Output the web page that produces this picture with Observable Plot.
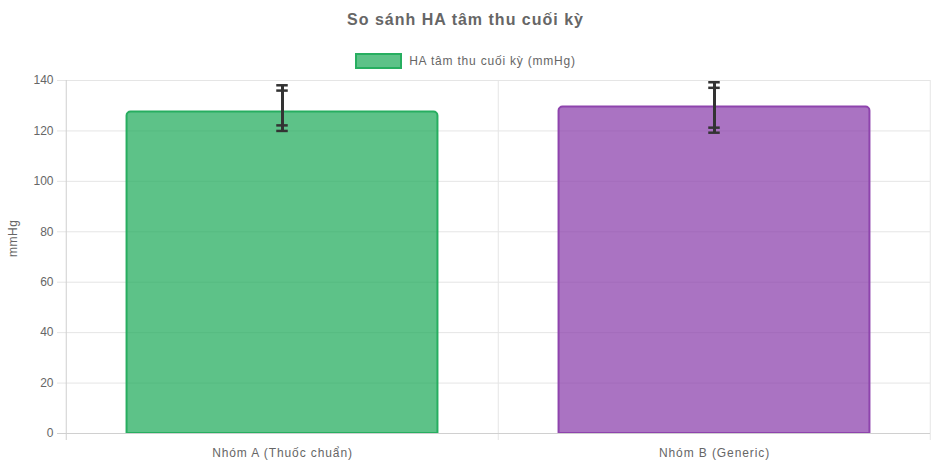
<!DOCTYPE html>
<html>
<head>
<meta charset="utf-8">
<script src="https://cdn.jsdelivr.net/npm/d3@7"></script>
<script src="https://cdn.jsdelivr.net/npm/@observablehq/plot@0.6"></script>
<style>
  html, body { margin: 0; padding: 0; background: #fff; }
  body { width: 931px; height: 465px; overflow: hidden; font-family: "Liberation Sans", Arial, Helvetica, sans-serif; }
  #title { height: 40px; line-height: 40px; text-align: center; font-weight: bold; font-size: 16px; color: #666; letter-spacing: 1px; }
  #legend { height: 22px; margin-top: 10px; display: flex; justify-content: center; align-items: center; font-size: 12px; color: #666; letter-spacing: 0.8px; }
  #legend .sw { width: 43px; height: 12px; background: rgba(39,174,96,0.75); border: 2px solid #27ae60; margin-right: 7px; box-sizing: content-box; }
  #chart { height: 393px; }
  #chart g[aria-label="x-axis tick label"] text { letter-spacing: 0.9px; }
  #chart g[aria-label="text"] text { letter-spacing: 0.5px; }
</style>
</head>
<body>
<div id="title"></div>
<div id="legend"><span class="sw"></span><span id="legtext"></span></div>
<div id="chart"></div>
<script>
const titleText = "So sánh HA tâm thu cuối kỳ";
const seriesName = "HA tâm thu cuối kỳ (mmHg)";
const yLabel = "mmHg";
const categories = ["Nhóm A (Thuốc chuẩn)", "Nhóm B (Generic)"];
const values = [127.5, 129.5];
const fills = ["rgba(39,174,96,0.75)", "rgba(142,68,173,0.75)"];
const strokes = ["#27ae60", "#8e44ad"];
// two overlapping error bars as drawn in the reference
const errOuterLow = [120.0, 119.3];
const errOuterHigh = [138.1, 139.3];
const errInnerLow = [122.2, 121.3];
const errInnerHigh = [136.0, 137.1];
const yTicks = [0, 20, 40, 60, 80, 100, 120, 140];

document.getElementById("title").textContent = titleText;
document.getElementById("legtext").textContent = seriesName;

const data = categories.map((c, i) => ({
  cat: c, v: values[i], fill: fills[i], stroke: strokes[i],
  lo: errOuterLow[i], hi: errOuterHigh[i], lo2: errInnerLow[i], hi2: errInnerHigh[i]
}));

const W = 931, H = 393;
const mL = 65, mR = 1, mT = 8, mB = 32;
const bandW = (W - mL - mR) / categories.length;
const barInset = (bandW - bandW * 0.72) / 2;
const capInset = (bandW - 12) / 2;
const capOpts = { x: "cat", stroke: "#333", strokeWidth: 2.5, insetLeft: capInset, insetRight: capInset };

const chart = Plot.plot({
  width: W,
  height: H,
  marginLeft: mL,
  marginRight: mR,
  marginTop: mT,
  marginBottom: mB,
  style: { fontFamily: '"Liberation Sans", Arial, sans-serif', fontSize: "12px", color: "#666", background: "#fff" },
  x: { type: "band", domain: categories, padding: 0, label: null },
  y: { domain: [0, 140], label: null },
  marks: [
    // horizontal grid (extends into tick area)
    Plot.ruleY(yTicks, { stroke: "#e5e5e5", strokeWidth: 1, insetLeft: -8 }),
    // vertical grid at category boundaries
    Plot.ruleX(categories, { x: (d) => d, dx: -bandW / 2, stroke: (d, i) => i === 0 ? "#cfcfcf" : "#e5e5e5", insetBottom: -7 }),
    Plot.ruleX(categories.slice(-1), { x: (d) => d, dx: bandW / 2 - 0.5, stroke: "#e5e5e5", insetBottom: -7 }),
    Plot.barY(data, {
      x: "cat", y: "v", fill: "fill", stroke: "stroke", strokeWidth: 2,
      insetLeft: barInset, insetRight: barInset, ry1: 4
    }),
    Plot.ruleY([0], { stroke: "#d0d0d0", insetLeft: -8 }),
    Plot.ruleX(data, { x: "cat", y1: "lo", y2: "hi", stroke: "#333", strokeWidth: 3 }),
    Plot.tickY(data, { ...capOpts, y: "hi" }),
    Plot.tickY(data, { ...capOpts, y: "lo" }),
    Plot.tickY(data, { ...capOpts, y: "hi2" }),
    Plot.tickY(data, { ...capOpts, y: "lo2" }),
    Plot.axisY(yTicks, { tickSize: 0, tickPadding: 12, fill: "#666", fontSize: 12 }),
    Plot.axisX(categories, { tickSize: 0, tickPadding: 15, fill: "#666", fontSize: 12 }),
    Plot.text([yLabel], { frameAnchor: "left", dx: -52, rotate: -90, fill: "#666", fontSize: 12 })
  ]
});
document.getElementById("chart").appendChild(chart);
</script>
</body>
</html>
